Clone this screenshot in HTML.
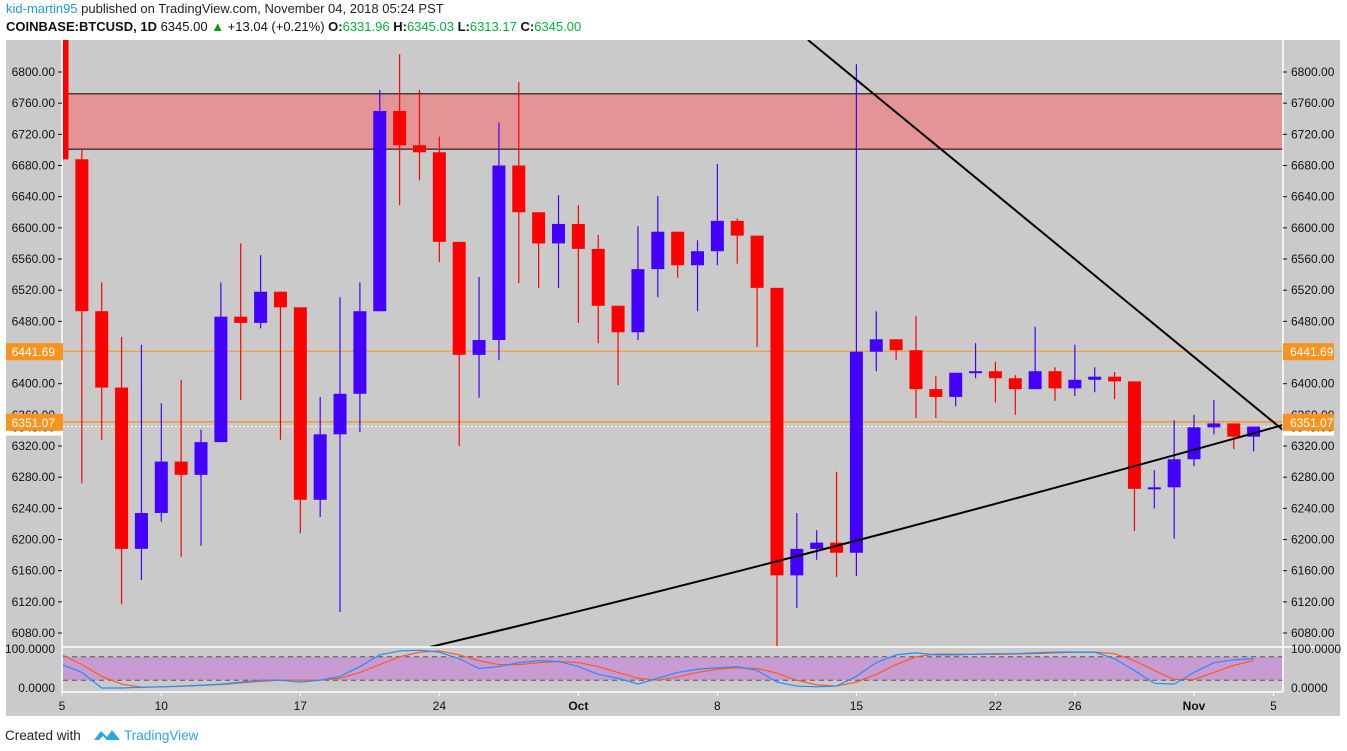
<!DOCTYPE html>
<html><head><meta charset="utf-8">
<style>
body{margin:0;width:1347px;height:751px;background:#fff;overflow:hidden;font-family:"Liberation Sans",sans-serif}
#hdr1{position:absolute;left:6px;top:1px;font-size:13px;color:#222}
#hdr2{position:absolute;left:6px;top:19px;font-size:13px;color:#111}
.g{color:#00b33c}
#foot{position:absolute;left:5px;top:727px;font-size:13.5px;color:#222}
</style></head>
<body>
<div id="hdr1"><span style="color:#1e9bd7">kid-martin95</span> published on TradingView.com, November 04, 2018 05:24 PST</div>
<div id="hdr2"><b>COINBASE:BTCUSD, 1D</b> 6345.00 <span style="color:#00a000">▲</span> +13.04 (+0.21%) <b>O:</b><span class="g">6331.96</span> <b>H:</b><span class="g">6345.03</span> <b>L:</b><span class="g">6313.17</span> <b>C:</b><span class="g">6345.00</span></div>
<svg id="chart" width="1347" height="751" style="position:absolute;left:0;top:0"></svg>
<div id="foot">Created with <svg width="28" height="16" style="vertical-align:-3px;margin-left:8px"><path d="M1 13 L8 4 L14 10 L19 3 L27 13 Z" fill="#29a8e0"/><path d="M6 13 L10 9 L14 13 Z" fill="#fff"/></svg> <span style="color:#29a8e0">TradingView</span></div>
<script>
const opens=[6900,6688,6493,6395,6188,6234,6300,6283,6325,6486,6478,6518,6498,6251,6335,6387,6493,6750,6706,6697,6582,6437,6456,6680,6620,6580,6605,6573,6500,6466,6547,6595,6552,6570,6609,6590,6523,6154,6188,6196,6183,6441,6457,6443,6393,6383,6414,6416,6407,6393,6416,6394,6405,6409,6403,6265,6267,6303,6344,6349,6332];
const closes=[6688,6493,6395,6188,6234,6300,6283,6325,6486,6478,6518,6498,6251,6335,6387,6493,6750,6706,6697,6582,6437,6456,6680,6620,6580,6605,6573,6500,6466,6547,6595,6552,6570,6609,6590,6523,6154,6188,6196,6183,6441,6457,6443,6393,6383,6414,6416,6407,6393,6416,6394,6405,6409,6403,6265,6267,6303,6344,6349,6332,6345];
const highs=[6900,6702,6530,6460,6450,6375,6405,6341,6530,6580,6565,6518,6498,6383,6511,6530,6777,6823,6777,6717,6582,6537,6735,6787,6620,6642,6629,6591,6500,6602,6641,6595,6584,6682,6612,6590,6523,6234,6212,6287,6810,6493,6457,6487,6410,6414,6452,6428,6411,6473,6421,6450,6421,6415,6403,6289,6353,6360,6379,6349,6345];
const lows=[6688,6272,6328,6117,6148,6223,6178,6192,6325,6379,6471,6328,6208,6229,6107,6338,6493,6629,6661,6556,6320,6382,6430,6529,6523,6523,6478,6452,6398,6456,6511,6536,6493,6552,6554,6447,6063,6112,6174,6152,6153,6416,6430,6356,6356,6371,6407,6376,6360,6393,6378,6384,6389,6380,6211,6240,6201,6294,6335,6316,6313];
const stochK=[60,40,0,0,2,3,5,7,10,15,20,20,15,20,30,55,85,95,97,92,75,50,55,65,70,68,55,35,25,10,25,40,48,52,55,45,15,5,3,5,30,65,85,90,85,85,87,88,88,90,92,92,92,75,45,12,10,40,65,72,75];
const stochD=[85,60,30,10,2,3,4,7,9,13,17,20,20,20,25,40,60,80,92,95,85,70,60,60,65,68,65,55,40,25,20,28,40,48,52,50,38,20,8,5,15,35,60,80,87,87,86,86,87,88,90,92,92,88,70,45,22,22,40,58,70];
const priceTicks=[6800,6760,6720,6680,6640,6600,6560,6520,6480,6440,6400,6360,6320,6280,6240,6200,6160,6120,6080];
const timeLabels=[["5",0,false],["10",5,false],["17",12,false],["24",19,false],["Oct",26,true],["8",33,false],["15",40,false],["22",47,false],["26",51,false],["Nov",57,true],["5",61,false]];

const NS="http://www.w3.org/2000/svg",svg=document.getElementById('chart');
const L=63,R=1283,T=40,B=647,OT=647,OB=692;
const xs=i=>62+i*19.86;
const ys=p=>72+(6800-p)*0.7792;
const yo=v=>688-v*0.39;
function mk(tag,at,parent){const e=document.createElementNS(NS,tag);for(const k in at)e.setAttribute(k,at[k]);(parent||svg).appendChild(e);return e;}
let e;
e=mk('rect',{x:6,y:40,width:1334,height:676,fill:'#cacaca'});


const defs=mk('defs',{});
const cp=mk('clipPath',{id:'cp'},defs);mk('rect',{x:L,y:T,width:R-L,height:B-T},cp);
const cp2=mk('clipPath',{id:'cp2'},defs);mk('rect',{x:L,y:OT,width:R-L,height:OB-OT},cp2);
const main=mk('g',{'clip-path':'url(#cp)'});
e=mk('rect',{x:L,y:ys(6772),width:R-L,height:ys(6701)-ys(6772),fill:'#e49494',stroke:'#000','stroke-width':1},main);


e=mk('line',{x1:L,x2:R,y1:ys(6441.69),y2:ys(6441.69),stroke:'#f7931e','stroke-width':1},main);


e=mk('line',{x1:L,x2:R,y1:ys(6351.07),y2:ys(6351.07),stroke:'#f7931e','stroke-width':1.3},main);


e=mk('line',{x1:L,x2:R,y1:ys(6345),y2:ys(6345),stroke:'#fff','stroke-width':1,'stroke-dasharray':'2,2'},main);


for(let i=0;i<opens.length;i++){
  const o=opens[i],c=closes[i],up=c>=o,col=up?'#4400ff':'#ff0000',x=xs(i);
  const g=mk('g',{},main);
  
  
  mk('line',{x1:x,x2:x,y1:ys(highs[i]),y2:ys(lows[i]),stroke:col,'stroke-width':1.2},g);
  const y1=ys(Math.max(o,c)),y2=ys(Math.min(o,c));
  mk('rect',{x:x-6.5,y:y1,width:13,height:Math.max(2,y2-y1),fill:col},g);
}
e=mk('line',{x1:808,y1:40,x2:1283,y2:430,stroke:'#000','stroke-width':2},main);


e=mk('path',{d:'M430,647 Q800,560 1283,425',fill:'none',stroke:'#000','stroke-width':2},main);


const og=mk('g',{'clip-path':'url(#cp2)'});
e=mk('rect',{x:L,y:yo(80),width:R-L,height:yo(20)-yo(80),fill:'#c99bd3'},og);


[80,20].forEach(v=>{mk('line',{x1:L,x2:R,y1:yo(v),y2:yo(v),stroke:'#555','stroke-dasharray':'5,4'},og);});
function pl(arr,col,name){const p=mk('polyline',{points:arr.map((v,i)=>xs(i)+','+yo(v)).join(' '),fill:'none',stroke:col,'stroke-width':1.2},og);

}
pl(stochD,'#ff5a1e','stoch-d-line');
pl(stochK,'#1e90ff','stoch-k-line');
[[62,40,62,692],[1283,40,1283,692],[62,647,1340,647],[62,692,1283,692]].forEach(a=>mk('line',{x1:a[0],y1:a[1],x2:a[2],y2:a[3],stroke:'#fff','stroke-width':1.5}));
const ax=mk('g',{'font-size':'12px','font-family':'Liberation Sans, sans-serif',fill:'#111'});
priceTicks.forEach(p=>{const y=ys(p);
 let t=mk('text',{x:55,y:y+4,'text-anchor':'end'},ax);t.textContent=p.toFixed(2);
 
 
 mk('line',{x1:58,x2:62,y1:y,y2:y,stroke:'#111'},ax);
 t=mk('text',{x:1291,y:y+4},ax);t.textContent=p.toFixed(2);
 
 
 mk('line',{x1:1283,x2:1287,y1:y,y2:y,stroke:'#111'},ax);});
[["100.0000",100],["0.0000",0]].forEach(a=>{const y=yo(a[1]);
 let t=mk('text',{x:55,y:y+4,'text-anchor':'end'},ax);t.textContent=a[0];
 
 
 t=mk('text',{x:1291,y:y+4},ax);t.textContent=a[0];
 
 });
timeLabels.forEach(a=>{const x=xs(a[1]);
 const t=mk('text',{x:x,y:710,'text-anchor':'middle','font-weight':a[2]?'bold':'normal'},ax);t.textContent=a[0];
 
 
 mk('line',{x1:x,x2:x,y1:692,y2:696,stroke:'#fff'},ax);});
function tag(p,txt,bg,fg,name){const y=ys(p);
 [[6,57],[1283,51]].forEach(s=>{const g=mk('g',{});
  
  
  mk('rect',{x:s[0],y:y-8,width:s[1],height:17,fill:bg},g);
  const t=mk('text',{x:s[0]===6?55:1290,y:y+5,'font-size':'12px',fill:fg,'text-anchor':s[0]===6?'end':'start'},g);t.textContent=txt;});}
tag(6441.69,'6441.69','#f7931e','#fff','price-tag-6441');
tag(6345,'6345.00','#fff','#111','last-price-tag');
tag(6351.07,'6351.07','#f7931e','#fff','price-tag-6351');
e=mk('rect',{x:63,y:40,width:5,height:ys(6688)-40,fill:'#ff0000'});


</script>
</body></html>
